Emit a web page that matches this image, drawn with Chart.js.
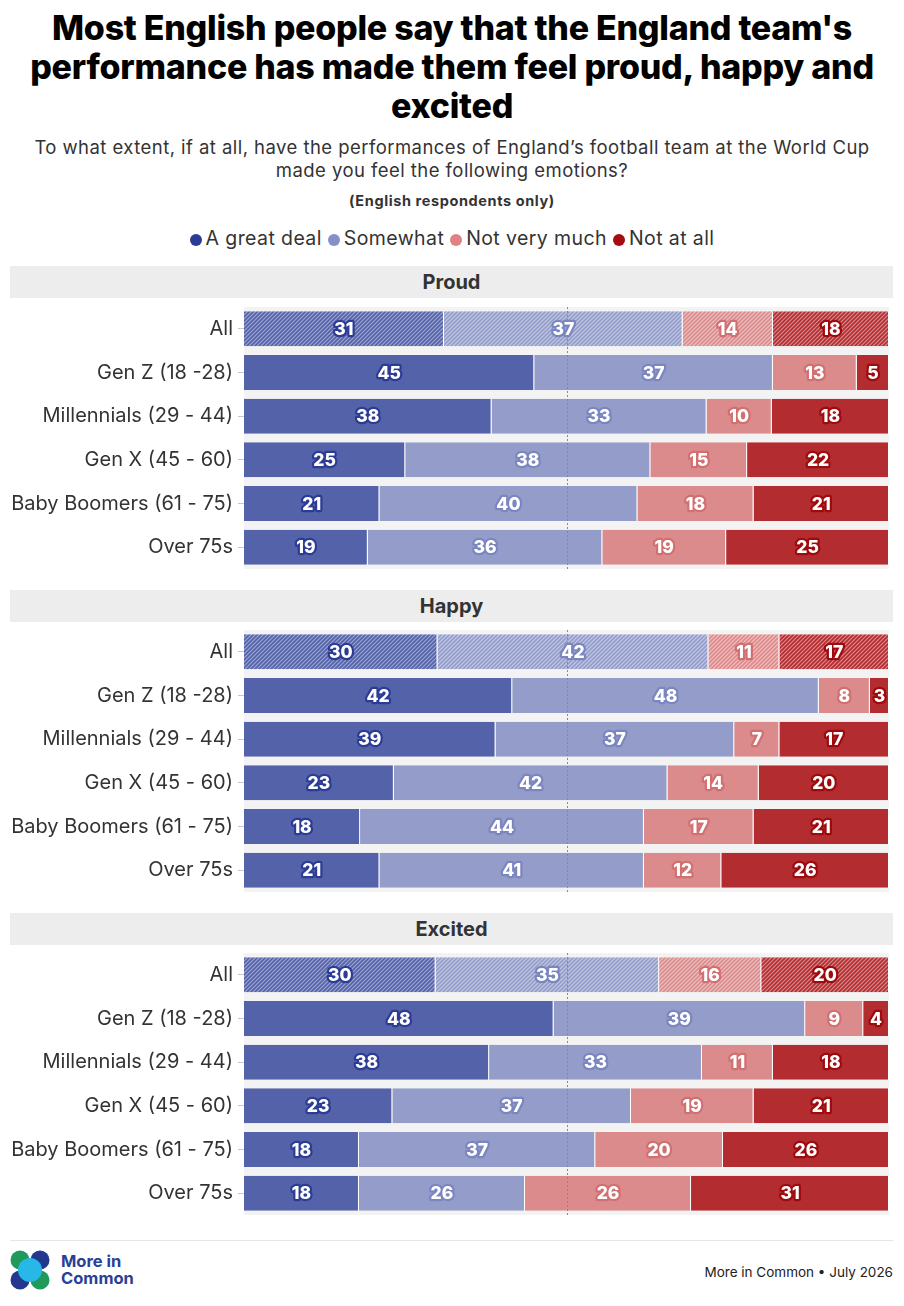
<!DOCTYPE html>
<html>
<head>
<meta charset="utf-8">
<script src="https://cdn.jsdelivr.net/npm/chart.js@4"></script>
<style>
  html, body { margin:0; padding:0; background:#fff; }
  body { width:904px; height:1306px; position:relative; font-family: Inter, "Noto Sans", sans-serif; color:#333; overflow:hidden; }
  .abs { position:absolute; }
  #title { top:8px; left:0; width:904px; text-align:center; font-size:34px; line-height:39px; font-weight:800; color:#000; letter-spacing:-0.25px; }
  #sub { top:136px; left:0; width:904px; text-align:center; font-size:18.5px; line-height:23px; color:#333; letter-spacing:0.45px; }
  #note { top:191px; left:0; width:904px; text-align:center; font-size:14.5px; line-height:20px; font-weight:bold; color:#333; letter-spacing:0.6px; }
  #legend { top:226px; left:0; width:904px; text-align:center; font-size:19.5px; line-height:24px; color:#333; letter-spacing:0.4px; }
  #legend span.item { margin:0 3px; white-space:nowrap; }
  #legend span.dot { display:inline-block; width:12px; height:12px; border-radius:50%; margin-right:4px; vertical-align:-1px; }
  .hdr { left:10px; width:883px; height:32px; line-height:32px; background:#ededed; text-align:center; font-weight:bold; font-size:20px; color:#333; }
  canvas.c { position:absolute; left:0; }
  #rule { top:1240px; left:10px; width:883px; height:1px; background:#e6e6e6; }
  #brand { top:1253px; left:61px; font-size:16.5px; line-height:17px; font-weight:bold; color:#2a3f95; }
  #src { top:1264px; right:11px; font-size:13.5px; color:#222; }
</style>
</head>
<body>
<div id="title" class="abs">Most English people say that the England team's<br>performance has made them feel proud, happy and<br>excited</div>
<div id="sub" class="abs">To what extent, if at all, have the performances of England’s football team at the World Cup<br>made you feel the following emotions?</div>
<div id="note" class="abs">(English respondents only)</div>
<div id="legend" class="abs"></div>

<div class="abs hdr" style="top:266px">Proud</div>
<canvas id="c0" class="c" width="904" height="266" style="top:305px"></canvas>
<div class="abs hdr" style="top:590px">Happy</div>
<canvas id="c1" class="c" width="904" height="266" style="top:628px"></canvas>
<div class="abs hdr" style="top:913px">Excited</div>
<canvas id="c2" class="c" width="904" height="266" style="top:951px"></canvas>

<div id="rule" class="abs"></div>
<svg class="abs" style="top:1250px;left:10px" width="40" height="40" viewBox="0 0 40 40">
  <circle cx="10" cy="10" r="9.5" fill="#1f9a5a"/>
  <circle cx="30" cy="10" r="9.5" fill="#22388f"/>
  <circle cx="10" cy="30" r="9.5" fill="#22388f"/>
  <circle cx="30" cy="30" r="9.5" fill="#1f9a5a"/>
  <circle cx="20" cy="20" r="12" fill="#27b8e8"/>
</svg>
<div id="brand" class="abs">More in<br>Common</div>
<div id="src" class="abs">More in Common • July 2026</div>

<script>
// ---------- DATA ----------
const categories = ['All', 'Gen Z (18 -28)', 'Millennials (29 - 44)', 'Gen X (45 - 60)', 'Baby Boomers (61 - 75)', 'Over 75s'];
const seriesNames = ['A great deal', 'Somewhat', 'Not very much', 'Not at all'];
const panelTitles = ['Proud', 'Happy', 'Excited'];

const proudGreatDeal  = [31, 45, 38, 25, 21, 19];
const proudSomewhat   = [37, 37, 33, 38, 40, 36];
const proudNotVery    = [14, 13, 10, 15, 18, 19];
const proudNotAtAll   = [18,  5, 18, 22, 21, 25];

const happyGreatDeal  = [30, 42, 39, 23, 18, 21];
const happySomewhat   = [42, 48, 37, 42, 44, 41];
const happyNotVery    = [11,  8,  7, 14, 17, 12];
const happyNotAtAll   = [17,  3, 17, 20, 21, 26];

const excitedGreatDeal = [30, 48, 38, 23, 18, 18];
const excitedSomewhat  = [35, 39, 33, 37, 37, 26];
const excitedNotVery   = [16,  9, 11, 19, 20, 26];
const excitedNotAtAll  = [20,  4, 18, 21, 26, 31];

// ---------- STYLE ----------
const FONT = 'Inter, "Noto Sans", sans-serif';
const barColors     = ['#5463a9', '#949dc9', '#dc8b8c', '#b22c30'];
const lightColors   = ['#9ba4d2', '#c3c9e6', '#efc0c0', '#dc8a8c'];
const outlineColors = ['#2c3c94', '#7b86c0', '#d26f71', '#9e0a0d'];
const legendColors  = ['#2a3c94', '#8690c8', '#e08283', '#a50e10'];

// legend
const lg = document.getElementById('legend');
seriesNames.forEach((n, i) => {
  const s = document.createElement('span');
  s.className = 'item';
  s.innerHTML = '<span class="dot" style="background:' + legendColors[i] + '"></span>' + n;
  lg.appendChild(s);
});

function hatch(dark, light) {
  const c = document.createElement('canvas');
  c.width = 4; c.height = 4;
  const x = c.getContext('2d');
  x.fillStyle = light; x.fillRect(0, 0, 4, 4);
  x.strokeStyle = dark; x.lineWidth = 1.6;
  x.beginPath();
  x.moveTo(-1, 5); x.lineTo(5, -1);
  x.moveTo(-1, 1); x.lineTo(1, -1);
  x.moveTo(3, 5); x.lineTo(5, 3);
  x.stroke();
  return c;
}

const bgPlugin = {
  id: 'bg',
  beforeDatasetsDraw(chart) {
    const a = chart.chartArea, ctx = chart.ctx;
    ctx.save();
    ctx.fillStyle = '#f3f3f3';
    ctx.fillRect(a.left, a.top, a.right - a.left, a.bottom - a.top);
    ctx.restore();
  },
  afterDatasetsDraw(chart) {
    const a = chart.chartArea, ctx = chart.ctx;
    const xs = chart.scales.x.getPixelForValue(50);
    ctx.save();
    ctx.strokeStyle = '#8a8a8a'; ctx.lineWidth = 1;
    ctx.setLineDash([2, 2]);
    ctx.beginPath();
    ctx.moveTo(Math.round(xs) + 0.5, a.top - 4);
    ctx.lineTo(Math.round(xs) + 0.5, a.bottom);
    ctx.stroke();
    ctx.setLineDash([]);
    // value labels
    ctx.font = '800 17.5px ' + FONT;
    ctx.textAlign = 'center'; ctx.textBaseline = 'middle';
    ctx.lineJoin = 'round';
    chart.data.datasets.forEach((ds, di) => {
      const meta = chart.getDatasetMeta(di);
      meta.data.forEach((el, i) => {
        const t = String(ds.raw[i]);
        const cx = (el.x + el.base) / 2, cy = el.y + 1;
        ctx.strokeStyle = outlineColors[di]; ctx.lineWidth = 4.5;
        ctx.strokeText(t, cx, cy);
        ctx.fillStyle = '#fff';
        ctx.fillText(t, cx, cy);
      });
    });
    ctx.restore();
  }
};

function makeChart(id, series) {
  const totals = categories.map((_, i) => series.reduce((s, arr) => s + arr[i], 0));
  const datasets = series.map((arr, di) => {
    const pat = document.createElement('canvas').getContext('2d').createPattern(hatch(barColors[di], lightColors[di]), 'repeat');
    return {
      label: seriesNames[di],
      raw: arr,
      data: arr.map((v, i) => v / totals[i] * 100),
      backgroundColor: ctx => ctx.dataIndex === 0 ? pat : barColors[di],
      borderColor: '#ffffff',
      borderWidth: { top: 0, bottom: 0, left: 0, right: 1 },
      borderSkipped: false,
      barPercentage: 0.8,
      categoryPercentage: 1.0
    };
  });
  return new Chart(document.getElementById(id), {
    type: 'bar',
    data: { labels: categories, datasets },
    plugins: [bgPlugin],
    options: {
      indexAxis: 'y',
      responsive: false,
      animation: false,
      layout: { padding: { top: 2, bottom: 2, right: 15, left: 0 } },
      plugins: { legend: { display: false }, tooltip: { enabled: false } },
      scales: {
        x: { stacked: true, min: 0, max: 100, display: false },
        y: {
          stacked: true,
          border: { display: false },
          grid: { offset: false, drawOnChartArea: false, drawTicks: true, tickLength: 6, color: '#c8c8c8' },
          ticks: { color: '#333', font: { family: FONT, size: 20 }, padding: 5, autoSkip: false },
          afterFit(scale) { scale.width = 244; scale.paddingTop = 0; scale.paddingBottom = 0; }
        }
      }
    }
  });
}

makeChart('c0', [proudGreatDeal, proudSomewhat, proudNotVery, proudNotAtAll]);
makeChart('c1', [happyGreatDeal, happySomewhat, happyNotVery, happyNotAtAll]);
makeChart('c2', [excitedGreatDeal, excitedSomewhat, excitedNotVery, excitedNotAtAll]);
</script>
</body>
</html>
